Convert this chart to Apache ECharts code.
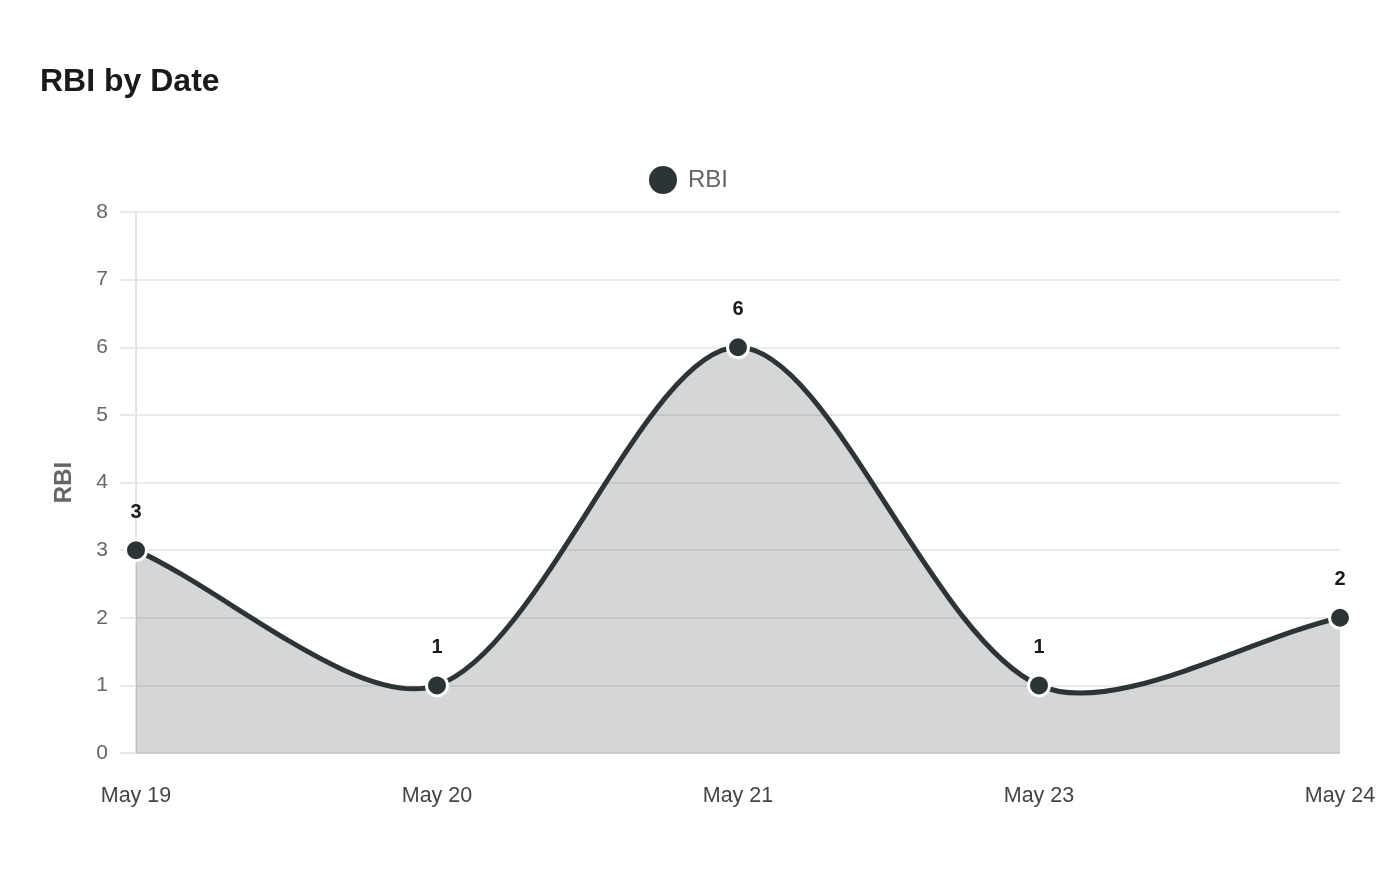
<!DOCTYPE html>
<html><head><meta charset="utf-8">
<script src="https://cdn.jsdelivr.net/npm/echarts@6/dist/echarts.min.js"></script>
<style>html,body{margin:0;padding:0;background:#fff}#c{width:1400px;height:880px}</style>
</head><body><div id="c"></div>
<script>
const categories = ['May 19', 'May 20', 'May 21', 'May 23', 'May 24'];
const rbiValues = [3, 1, 6, 1, 2];
const seriesName = 'RBI';
const titleText = 'RBI by Date';

const LINE = '#2d3436';
const TENSION = 0.3;
const chart = echarts.init(document.getElementById('c'));
const FONT = '"Liberation Sans", Arial, sans-serif';

// Cardinal-spline curve through the data points, placed with the chart's own scales (api.coord)
function renderCurve(params, api) {
  if (params.dataIndex !== 0) return null;
  const pts = rbiValues.map((v, i) => api.coord([i, v]));
  const n = pts.length;
  const cps = pts.map((p, i) => {
    const prev = pts[Math.max(0, i - 1)];
    const next = pts[Math.min(n - 1, i + 1)];
    const d01 = Math.hypot(p[0] - prev[0], p[1] - prev[1]);
    const d12 = Math.hypot(next[0] - p[0], next[1] - p[1]);
    let s01 = d01 / (d01 + d12), s12 = d12 / (d01 + d12);
    if (isNaN(s01)) s01 = 0; if (isNaN(s12)) s12 = 0;
    const fa = TENSION * s01, fb = TENSION * s12;
    return {
      prev: [p[0] - fa * (next[0] - prev[0]), p[1] - fa * (next[1] - prev[1])],
      next: [p[0] + fb * (next[0] - prev[0]), p[1] + fb * (next[1] - prev[1])]
    };
  });
  let d = 'M' + pts[0][0] + ' ' + pts[0][1];
  for (let i = 0; i < n - 1; i++) {
    const a = cps[i].next, b = cps[i + 1].prev, c = pts[i + 1];
    d += ' C' + a[0] + ' ' + a[1] + ' ' + b[0] + ' ' + b[1] + ' ' + c[0] + ' ' + c[1];
  }
  const base0 = api.coord([0, 0]);
  const baseN = api.coord([n - 1, 0]);
  const area = d + ' L' + baseN[0] + ' ' + baseN[1] + ' L' + base0[0] + ' ' + base0[1] + ' Z';
  return {
    type: 'group',
    children: [
      { type: 'path', shape: { pathData: area }, style: { fill: 'rgba(45,52,54,0.2)', stroke: null }, silent: true },
      { type: 'path', shape: { pathData: d }, style: { fill: null, stroke: LINE, lineWidth: 5, lineJoin: 'round' }, silent: true }
    ]
  };
}

chart.setOption({
  animation: false,
  textStyle: { fontFamily: FONT },
  title: { text: titleText, left: 35, top: 61, textStyle: { fontSize: 32, fontWeight: 'bold', color: '#1a1a1a', fontFamily: FONT } },
  legend: {
    top: 161, left: 644, icon: 'circle', itemWidth: 28, itemHeight: 28, itemGap: 10,
    textStyle: { fontSize: 24, color: '#666', fontFamily: FONT, padding: [4, 0, 0, 6] },
    data: [seriesName]
  },
  grid: { left: 136, right: 60, top: 212, bottom: 127 },
  xAxis: {
    type: 'category', data: categories, boundaryGap: false,
    axisLine: { show: true, lineStyle: { color: '#d0d0d0' } },
    axisTick: { show: false },
    axisLabel: { fontSize: 21.5, color: '#444', margin: 32, fontFamily: FONT },
    splitLine: { show: false }
  },
  yAxis: {
    type: 'value', min: 0, max: 8, interval: 1,
    name: 'RBI', nameLocation: 'middle', nameGap: 60, nameRotate: 90,
    nameTextStyle: { fontSize: 24, fontWeight: 'bold', color: '#666', fontFamily: FONT },
    axisLine: { show: true, lineStyle: { color: '#e3e3e3', width: 2 } },
    axisTick: { show: true, length: 16, lineStyle: { color: '#e8e8e8', width: 2 } },
    axisLabel: { fontSize: 21, color: '#666', margin: 28, fontFamily: FONT },
    splitLine: { show: true, lineStyle: { color: '#ebebeb', width: 2 } }
  },
  series: [
    {
      name: seriesName, type: 'custom', renderItem: renderCurve,
      data: rbiValues.map((v, i) => [i, v]), encode: { x: 0, y: 1 },
      itemStyle: { color: LINE }, z: 2, silent: true
    },
    {
      name: seriesName, type: 'line', data: rbiValues,
      symbol: 'circle', symbolSize: 21,
      itemStyle: { color: LINE, borderColor: '#fff', borderWidth: 3 },
      lineStyle: { width: 0, opacity: 0 },
      label: { show: true, position: 'top', distance: 16, fontSize: 20, fontWeight: 'bold', color: '#1a1a1a', fontFamily: FONT },
      z: 3
    }
  ]
});
</script></body></html>
